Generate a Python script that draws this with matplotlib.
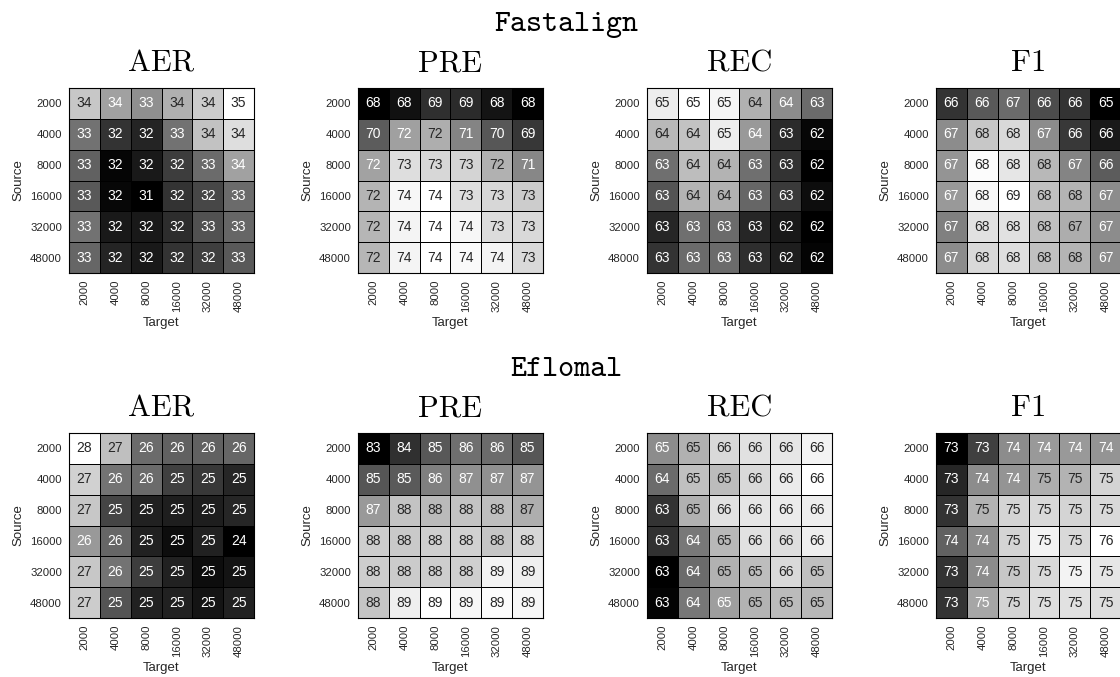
import numpy as np
import matplotlib
matplotlib.use("Agg")
import matplotlib.pyplot as plt
from matplotlib import colors as mcolors

# ---------------- data ----------------
sizes = ["2000", "4000", "8000", "16000", "32000", "48000"]
metrics = ["AER", "PRE", "REC", "F1"]
aligners = ["Fastalign", "Eflomal"]

fa_aer = [[34.15, 33.64, 33.40, 33.84, 34.22, 34.90],
          [33.02, 32.17, 31.97, 33.02, 34.08, 34.45],
          [32.79, 31.56, 31.83, 32.31, 32.92, 33.64],
          [32.68, 31.59, 31.49, 32.17, 32.44, 32.92],
          [33.02, 31.83, 31.83, 32.10, 32.58, 32.85],
          [32.85, 31.97, 31.83, 32.17, 32.34, 32.68]]
fa_pre = [[67.90, 68.35, 69.10, 69.00, 68.40, 67.95],
          [70.20, 71.90, 72.25, 71.20, 70.10, 69.30],
          [71.95, 73.45, 73.30, 73.20, 72.35, 71.30],
          [72.40, 74.10, 74.30, 73.45, 73.30, 73.00],
          [72.45, 74.00, 74.30, 74.10, 73.40, 73.35],
          [72.45, 74.00, 74.30, 74.15, 74.00, 73.35]]
fa_rec = [[64.98, 65.20, 65.08, 64.25, 63.80, 63.40],
          [64.33, 64.45, 64.98, 63.96, 62.63, 62.19],
          [63.45, 64.40, 64.27, 63.45, 62.72, 62.10],
          [63.12, 64.27, 64.25, 63.34, 62.81, 62.26],
          [62.57, 63.45, 63.40, 62.57, 62.41, 62.10],
          [62.72, 63.40, 63.40, 62.66, 62.47, 62.16]]
fa_f1 = [[65.87, 66.37, 66.60, 66.20, 65.87, 65.20],
         [67.03, 67.80, 68.03, 67.03, 65.93, 65.53],
         [67.13, 68.48, 68.20, 67.60, 66.93, 66.40],
         [67.20, 68.43, 68.53, 67.70, 67.55, 67.03],
         [66.87, 68.13, 68.13, 67.70, 67.46, 67.03],
         [67.03, 68.03, 68.10, 67.70, 67.55, 67.03]]

ef_aer = [[27.60, 26.81, 25.77, 25.65, 25.65, 25.71],
          [27.03, 25.87, 25.77, 25.24, 25.14, 24.92],
          [26.91, 25.30, 24.86, 24.83, 24.83, 24.92],
          [26.34, 25.71, 24.86, 24.61, 24.86, 24.45],
          [26.91, 25.87, 25.21, 24.86, 24.61, 24.70],
          [26.97, 25.49, 24.86, 24.86, 24.70, 24.86]]
ef_pre = [[83.30, 84.45, 85.40, 85.95, 85.85, 85.35],
          [85.35, 85.45, 86.35, 86.75, 86.75, 86.85],
          [86.95, 87.95, 87.75, 87.95, 87.85, 87.45],
          [88.20, 88.10, 88.25, 88.30, 88.00, 88.40],
          [88.20, 88.15, 88.20, 88.25, 89.10, 89.00],
          [88.00, 89.00, 89.40, 89.20, 89.30, 89.20]]
ef_rec = [[64.73, 65.25, 65.81, 65.92, 65.99, 66.17],
          [64.26, 65.45, 65.40, 65.81, 66.06, 66.35],
          [63.47, 65.25, 65.92, 65.99, 66.06, 66.10],
          [63.45, 64.45, 65.35, 65.92, 65.88, 66.10],
          [62.75, 64.26, 65.25, 65.42, 65.81, 65.45],
          [62.82, 64.43, 64.98, 65.27, 65.38, 65.34]]
ef_f1 = [[72.60, 73.35, 74.25, 74.40, 74.40, 74.34],
         [73.05, 74.25, 74.34, 74.65, 74.70, 75.09],
         [73.20, 74.70, 75.09, 75.15, 75.09, 75.15],
         [73.74, 74.25, 75.09, 75.45, 75.15, 75.60],
         [73.20, 74.25, 74.94, 75.15, 75.45, 75.30],
         [73.20, 74.55, 75.09, 75.21, 75.24, 75.21]]

results = {"Fastalign": [fa_aer, fa_pre, fa_rec, fa_f1],
           "Eflomal": [ef_aer, ef_pre, ef_rec, ef_f1]}

# ---------------- layout ----------------
W, H = 1120, 677
fig = plt.figure(figsize=(W / 100, H / 100), dpi=100)
lefts = [69, 358, 647, 936]
tops = [88, 433]
side = 185
section_baselines = [31, 376]
sans = "Liberation Sans"
txt_dark = "#262626"


def rel_lum(rgba):
    rgb = np.array(mcolors.to_rgb(rgba))
    lin = np.where(rgb <= 0.03928, rgb / 12.92, ((rgb + 0.055) / 1.055) ** 2.4)
    return 0.2126 * lin[0] + 0.7152 * lin[1] + 0.0722 * lin[2]


cmap = plt.get_cmap("gray")

for r, name in enumerate(aligners):
    fig.text(566 / W, 1 - section_baselines[r] / H, name, fontfamily="cmtt10",
             fontsize=22, ha="center", va="baseline", color="black")
    for c, metric in enumerate(metrics):
        data = np.array(results[name][c])
        ax = fig.add_axes([lefts[c] / W, 1 - (tops[r] + side) / H, side / W, side / H])
        vmin, vmax = data.min(), data.max()
        norm = mcolors.Normalize(vmin=vmin, vmax=vmax)
        ax.pcolormesh(data, cmap=cmap, norm=norm, edgecolors="black", linewidth=0.6)
        ax.set_xlim(0, data.shape[1])
        ax.set_ylim(data.shape[0], 0)
        for i in range(data.shape[0]):
            for j in range(data.shape[1]):
                v = data[i, j]
                col = cmap(norm(v))
                tc = txt_dark if rel_lum(col) > 0.408 else "white"
                ax.text(j + 0.5, i + 0.5, f"{v:.0f}", ha="center", va="center",
                        fontsize=10, color=tc, fontfamily=sans)
        ax.set_xticks(np.arange(len(sizes)) + 0.5)
        ax.set_yticks(np.arange(len(sizes)) + 0.5)
        ax.set_xticklabels(sizes, rotation=90, fontsize=8.2, color=txt_dark, fontfamily=sans)
        ax.set_yticklabels(sizes, fontsize=8.2, color=txt_dark, fontfamily=sans)
        ax.tick_params(length=0, pad=5)
        ax.set_xlabel("Target", fontsize=9.5, color=txt_dark, fontfamily=sans, labelpad=4)
        ax.set_ylabel("Source", fontsize=9.5, color=txt_dark, fontfamily=sans, labelpad=4)
        for sp in ax.spines.values():
            sp.set_color("black")
            sp.set_linewidth(0.8)
        ax.set_title(metric, fontfamily="cmr10", fontsize=22, pad=12, color="black")

fig.savefig("out.png", dpi=100)
